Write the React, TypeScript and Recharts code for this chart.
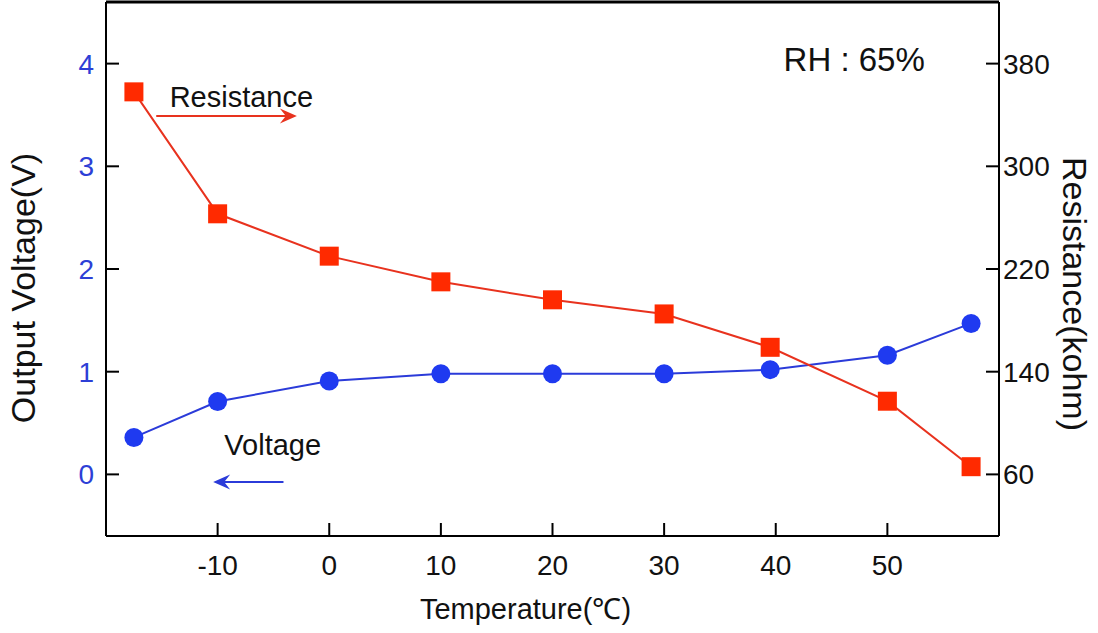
import React from "react";
import {
  ComposedChart,
  Line,
  XAxis,
  YAxis,
  ReferenceLine,
  ReferenceDot,
} from "recharts";

const temperatures = [-17.5, -10, 0, 10, 20, 30, 39.5, 50, 57.5];
const voltage = [0.36, 0.71, 0.91, 0.98, 0.98, 0.98, 1.02, 1.16, 1.47];
const resistance = [358, 263, 230, 210, 196, 185, 159, 117, 66];

const xTicks = [-10, 0, 10, 20, 30, 40, 50];
const voltageTicks = [0, 1, 2, 3, 4];
const resistanceTicks = [60, 140, 220, 300, 380];

const data = temperatures.map((t, i) => ({
  t,
  v: voltage[i],
  r: resistance[i],
}));

const FONT = "Arial, 'Liberation Sans', sans-serif";
const RED = "#FF2A00";
const RED_LINE = "#E8321E";
const BLUE = "#1F3AF0";
const BLUE_LINE = "#2B3BD9";

const Square = (props: any) => {
  const { cx, cy, index } = props;
  if (cx == null || cy == null) return <g key={index} />;
  return (
    <rect key={index} x={cx - 9.5} y={cy - 9.5} width={19} height={19} fill={RED} />
  );
};

const arrow = (color: string) => (props: any) => {
  const { x1, y1, x2, y2 } = props;
  const dir = x2 > x1 ? 1 : -1;
  const head = 17;
  return (
    <g>
      <line x1={x1} y1={y1} x2={x2 - dir * head * 0.6} y2={y2} stroke={color} strokeWidth={2} />
      <polygon
        points={`${x2},${y2} ${x2 - dir * head},${y2 - 7.5} ${x2 - dir * head * 0.65},${y2} ${x2 - dir * head},${y2 + 7.5}`}
        fill={color}
      />
    </g>
  );
};

const note = (text: string, size: number) => (props: any) => (
  <text x={props.cx} y={props.cy} fontSize={size} fontFamily={FONT} fill="#111">
    {text}
  </text>
);

const App = () => {
  return (
    <div style={{ position: "absolute", left: 0, top: 0, background: "#fff" }}>
      <ComposedChart
        width={1098}
        height={633}
        data={data}
        margin={{ top: 2, right: 0, bottom: 0, left: 0 }}
      >
        <XAxis
          dataKey="t"
          type="number"
          domain={[-20, 60]}
          ticks={xTicks}
          height={97}
          stroke="#000"
          strokeWidth={2}
          tickSize={-13}
          tickMargin={32}
          tick={{ fill: "#111", fontSize: 28, fontFamily: FONT }}
          label={{
            value: "Temperature(℃)",
            position: "center",
            dx: -27,
            dy: 24,
            fontSize: 29,
            fontFamily: FONT,
            fill: "#111",
          }}
        />
        <YAxis
          yAxisId="left"
          domain={[-0.6, 4.6]}
          ticks={voltageTicks}
          width={106}
          stroke="#000"
          strokeWidth={2}
          tickSize={-13}
          tickMargin={25}
          tick={{ fill: "#2D3FD6", fontSize: 28, fontFamily: FONT }}
          label={{
            value: "Output Voltage(V)",
            angle: -90,
            position: "center",
            dx: -30,
            dy: 19,
            fontSize: 34,
            fontFamily: FONT,
            fill: "#111",
          }}
        />
        <YAxis
          yAxisId="right"
          orientation="right"
          domain={[12, 428]}
          ticks={resistanceTicks}
          width={99}
          stroke="#000"
          strokeWidth={2}
          tickSize={-13}
          tickMargin={17}
          tick={{ fill: "#111", fontSize: 28, fontFamily: FONT, textAnchor: "start" }}
          label={{
            value: "Resistance(kohm)",
            angle: 90,
            position: "center",
            dx: 27,
            dy: 25,
            fontSize: 34,
            fontFamily: FONT,
            fill: "#111",
          }}
        />
        <ReferenceLine yAxisId="left" y={4.6} stroke="#000" strokeWidth={3} ifOverflow="visible" />
        <Line
          yAxisId="left"
          dataKey="v"
          type="linear"
          stroke={BLUE_LINE}
          strokeWidth={2}
          dot={{ r: 9.5, fill: BLUE, stroke: BLUE, strokeWidth: 0 }}
          activeDot={false}
          isAnimationActive={false}
        />
        <Line
          yAxisId="right"
          dataKey="r"
          type="linear"
          stroke={RED_LINE}
          strokeWidth={2}
          dot={Square}
          activeDot={false}
          isAnimationActive={false}
        />
        <ReferenceLine
          yAxisId="left"
          segment={[
            { x: -15.5, y: 3.49 },
            { x: -2.9, y: 3.49 },
          ]}
          shape={arrow(RED_LINE)}
        />
        <ReferenceLine
          yAxisId="left"
          segment={[
            { x: -4.1, y: -0.075 },
            { x: -10.4, y: -0.075 },
          ]}
          shape={arrow(BLUE_LINE)}
        />
        <ReferenceDot yAxisId="left" x={-14.3} y={3.58} shape={note("Resistance", 29)} />
        <ReferenceDot yAxisId="left" x={-9.4} y={0.185} shape={note("Voltage", 29)} />
        <ReferenceDot yAxisId="left" x={40.7} y={3.93} shape={note("RH : 65%", 33)} />
      </ComposedChart>
    </div>
  );
};

export default App;
